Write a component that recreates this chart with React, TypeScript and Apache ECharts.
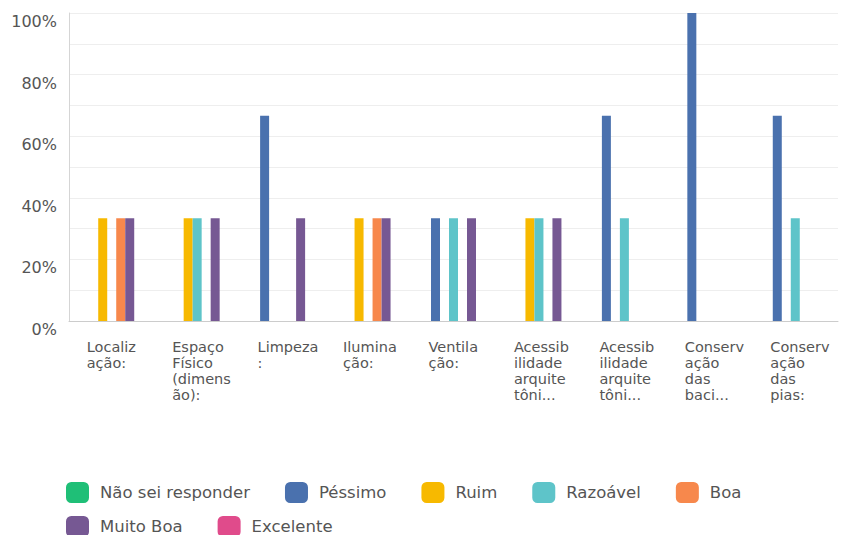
import React, { useEffect, useRef } from "react";
import * as echarts from "echarts";

const categories = [
  "Localiz\nação:",
  "Espaço\nFísico\n(dimens\não):",
  "Limpeza\n:",
  "Ilumina\nção:",
  "Ventila\nção:",
  "Acessib\nilidade\narquite\ntôni...",
  "Acessib\nilidade\narquite\ntôni... ",
  "Conserv\nação\ndas\nbaci...",
  "Conserv\nação\ndas\npias:",
];

const seriesNames = ["Não sei responder", "Péssimo", "Ruim", "Razoável", "Boa", "Muito Boa", "Excelente"];
const seriesColors = ["#1fbf77", "#4a71ae", "#f7b900", "#5ec4c9", "#f7884c", "#765893", "#e04b8b"];

const naoSei = [0, 0, 0, 0, 0, 0, 0, 0, 0];
const pessimo = [0, 0, 66.67, 0, 33.33, 0, 66.67, 100, 66.67];
const ruim = [33.33, 33.33, 0, 33.33, 0, 33.33, 0, 0, 0];
const razoavel = [0, 33.33, 0, 0, 33.33, 33.33, 33.33, 0, 33.33];
const boa = [33.33, 0, 0, 33.33, 0, 0, 0, 0, 0];
const muitoBoa = [33.33, 33.33, 33.33, 33.33, 33.33, 33.33, 0, 0, 0];
const excelente = [0, 0, 0, 0, 0, 0, 0, 0, 0];

const seriesValues = [naoSei, pessimo, ruim, razoavel, boa, muitoBoa, excelente];

export default function App() {
  const ref = useRef<HTMLDivElement>(null);
  useEffect(() => {
    if (!ref.current) return;
    const chart = echarts.init(ref.current, undefined, { renderer: "svg" });
    const font = "'DejaVu Sans', sans-serif";
    const legendCommon = {
      left: 61,
      itemWidth: 23,
      itemHeight: 21,
      itemGap: 35,
      icon: "roundRect",
      textStyle: { fontSize: 16.5, color: "#555", fontFamily: font, padding: [0, 0, 0, 6] },
    };
    chart.setOption({
      animation: false,
      textStyle: { fontFamily: font },
      grid: { left: 69, right: 4, top: 13, bottom: 214 },
      legend: [
        { ...legendCommon, top: 477, data: seriesNames.slice(0, 5) },
        { ...legendCommon, top: 511, data: seriesNames.slice(5) },
      ],
      xAxis: {
        type: "category",
        data: categories,
        axisLine: { lineStyle: { color: "#cccccc" } },
        axisTick: { show: false },
        axisLabel: {
          interval: 0,
          align: "left",
          verticalAlign: "top",
          margin: 18,
          padding: [0, 0, 0, -25],
          fontSize: 14.5,
          lineHeight: 16,
          color: "#555",
          fontFamily: font,
        },
      },
      yAxis: {
        type: "value",
        min: 0,
        max: 100,
        interval: 10,
        axisLine: { show: true, lineStyle: { color: "#d5d5d5" } },
        axisTick: { show: false },
        splitLine: { lineStyle: { color: "#eeeeee" } },
        axisLabel: {
          formatter: (v: number) => (v % 20 === 0 ? v + "%" : ""),
          fontSize: 16,
          color: "#555",
          margin: 12,
          verticalAlign: "top",
          lineHeight: 17,
          fontFamily: font,
        },
      },
      series: seriesNames.map((name, i) => ({
        name,
        type: "bar",
        data: seriesValues[i],
        barWidth: 9,
        barGap: "0%",
        itemStyle: { color: seriesColors[i] },
      })),
    });
    return () => chart.dispose();
  }, []);
  return (
    <div
      ref={ref}
      style={{ position: "fixed", left: 0, top: 0, width: 842, height: 535, background: "#fff" }}
    />
  );
}
